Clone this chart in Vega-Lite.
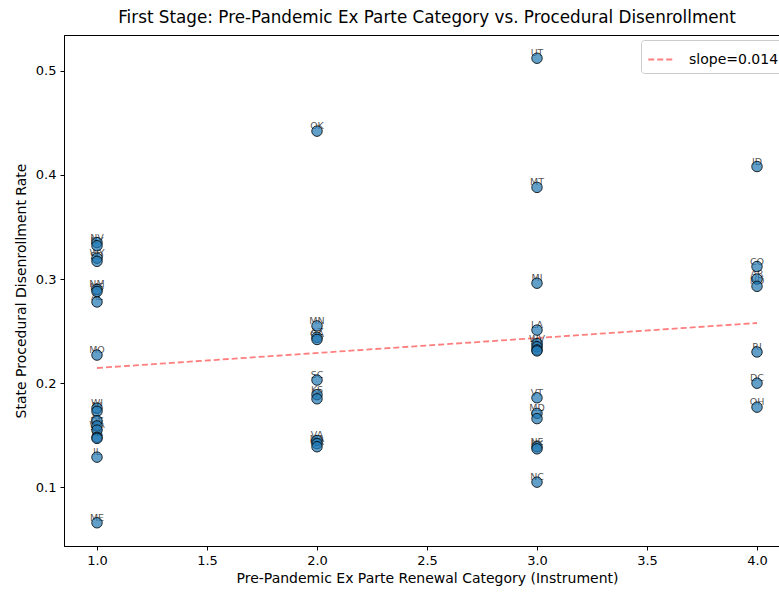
{
  "$schema": "https://vega.github.io/schema/vega-lite/v6.json",
  "autosize": "none",
  "padding": {"left": 64, "top": 35, "right": 0, "bottom": 47},
  "width": 726,
  "height": 511,
  "background": "white",
  "config": {
    "font": "DejaVu Sans",
    "view": {"stroke": "#000", "strokeWidth": 1},
    "axis": {"grid": false, "domainColor": "#000", "tickColor": "#000", "labelColor": "#000", "titleColor": "#000", "labelFontSize": 13, "titleFontSize": 14, "titleFontWeight": "normal", "tickSize": 4, "labelPadding": 4}
  },
  "title": {"text": "First Stage: Pre-Pandemic Ex Parte Category vs. Procedural Disenrollment", "fontSize": 16.8, "fontWeight": "normal", "anchor": "middle", "offset": 8, "color": "#000"},
  "datasets": {
    "pts": [
      {"cat": 1, "rate": 0.335, "state": "NV"},
      {"cat": 1, "rate": 0.332, "state": "NY"},
      {"cat": 1, "rate": 0.320, "state": "WY"},
      {"cat": 1, "rate": 0.317, "state": "SD"},
      {"cat": 1, "rate": 0.290, "state": "NM"},
      {"cat": 1, "rate": 0.288, "state": "MS"},
      {"cat": 1, "rate": 0.278, "state": "AL"},
      {"cat": 1, "rate": 0.227, "state": "MO"},
      {"cat": 1, "rate": 0.176, "state": "WI"},
      {"cat": 1, "rate": 0.173, "state": "NJ"},
      {"cat": 1, "rate": 0.164, "state": "FL"},
      {"cat": 1, "rate": 0.159, "state": "DE"},
      {"cat": 1, "rate": 0.155, "state": "WA"},
      {"cat": 1, "rate": 0.148, "state": "PA"},
      {"cat": 1, "rate": 0.147, "state": "TX"},
      {"cat": 1, "rate": 0.129, "state": "IL"},
      {"cat": 1, "rate": 0.066, "state": "ME"},
      {"cat": 2, "rate": 0.442, "state": "OK"},
      {"cat": 2, "rate": 0.255, "state": "MN"},
      {"cat": 2, "rate": 0.244, "state": "AZ"},
      {"cat": 2, "rate": 0.242, "state": "GA"},
      {"cat": 2, "rate": 0.203, "state": "SC"},
      {"cat": 2, "rate": 0.189, "state": "KS"},
      {"cat": 2, "rate": 0.185, "state": "IA"},
      {"cat": 2, "rate": 0.145, "state": "VA"},
      {"cat": 2, "rate": 0.142, "state": "MA"},
      {"cat": 2, "rate": 0.139, "state": "OR"},
      {"cat": 3, "rate": 0.512, "state": "UT"},
      {"cat": 3, "rate": 0.388, "state": "MT"},
      {"cat": 3, "rate": 0.296, "state": "MI"},
      {"cat": 3, "rate": 0.251, "state": "LA"},
      {"cat": 3, "rate": 0.238, "state": "WV"},
      {"cat": 3, "rate": 0.235, "state": "IN"},
      {"cat": 3, "rate": 0.232, "state": "TN"},
      {"cat": 3, "rate": 0.231, "state": "HI"},
      {"cat": 3, "rate": 0.186, "state": "VT"},
      {"cat": 3, "rate": 0.171, "state": "MD"},
      {"cat": 3, "rate": 0.166, "state": "CT"},
      {"cat": 3, "rate": 0.139, "state": "NE"},
      {"cat": 3, "rate": 0.137, "state": "KY"},
      {"cat": 3, "rate": 0.105, "state": "NC"},
      {"cat": 4, "rate": 0.408, "state": "ID"},
      {"cat": 4, "rate": 0.312, "state": "CO"},
      {"cat": 4, "rate": 0.300, "state": "AR"},
      {"cat": 4, "rate": 0.293, "state": "ND"},
      {"cat": 4, "rate": 0.230, "state": "RI"},
      {"cat": 4, "rate": 0.200, "state": "DC"},
      {"cat": 4, "rate": 0.177, "state": "OH"}
    ],
    "trend": [
      {"cat": 1, "rate": 0.2146, "series": "slope=0.014"},
      {"cat": 4, "rate": 0.2578, "series": "slope=0.014"}
    ]
  },
  "encoding": {
    "x": {"field": "cat", "type": "quantitative", "scale": {"domain": [0.85, 4.15], "nice": false, "zero": false},
      "axis": {"values": [1, 1.5, 2, 2.5, 3, 3.5, 4], "format": ".1f", "title": "Pre-Pandemic Ex Parte Renewal Category (Instrument)", "titlePadding": 4}},
    "y": {"field": "rate", "type": "quantitative", "scale": {"domain": [0.0437, 0.5343], "nice": false, "zero": false},
      "axis": {"values": [0.1, 0.2, 0.3, 0.4, 0.5], "format": ".1f", "title": "State Procedural Disenrollment Rate", "titlePadding": 7}}
  },
  "layer": [
    {
      "data": {"name": "trend"},
      "mark": {"type": "line", "strokeDash": [6, 3], "strokeWidth": 1.8},
      "encoding": {
        "color": {"field": "series", "type": "nominal", "scale": {"range": ["#ff7f7f"]},
          "legend": {"title": null, "orient": "top-right", "offset": 5, "symbolType": "stroke", "symbolDash": [6, 3], "symbolStrokeWidth": 1.8, "symbolSize": 600, "labelFontSize": 14, "labelOffset": 15, "labelColor": "#000", "strokeColor": "#ccc", "fillColor": "white", "cornerRadius": 3, "padding": 6}}
      }
    },
    {
      "data": {"name": "pts"},
      "mark": {"type": "text", "fontSize": 9.5, "dy": -5, "fill": "#333", "fillOpacity": 0.85},
      "encoding": {"text": {"field": "state"}}
    },
    {
      "data": {"name": "pts"},
      "mark": {"type": "point", "shape": "circle", "filled": true, "size": 110, "fill": "#1f77b4", "fillOpacity": 0.7, "stroke": "#000", "strokeWidth": 1, "strokeOpacity": 0.8}
    }
  ]
}
